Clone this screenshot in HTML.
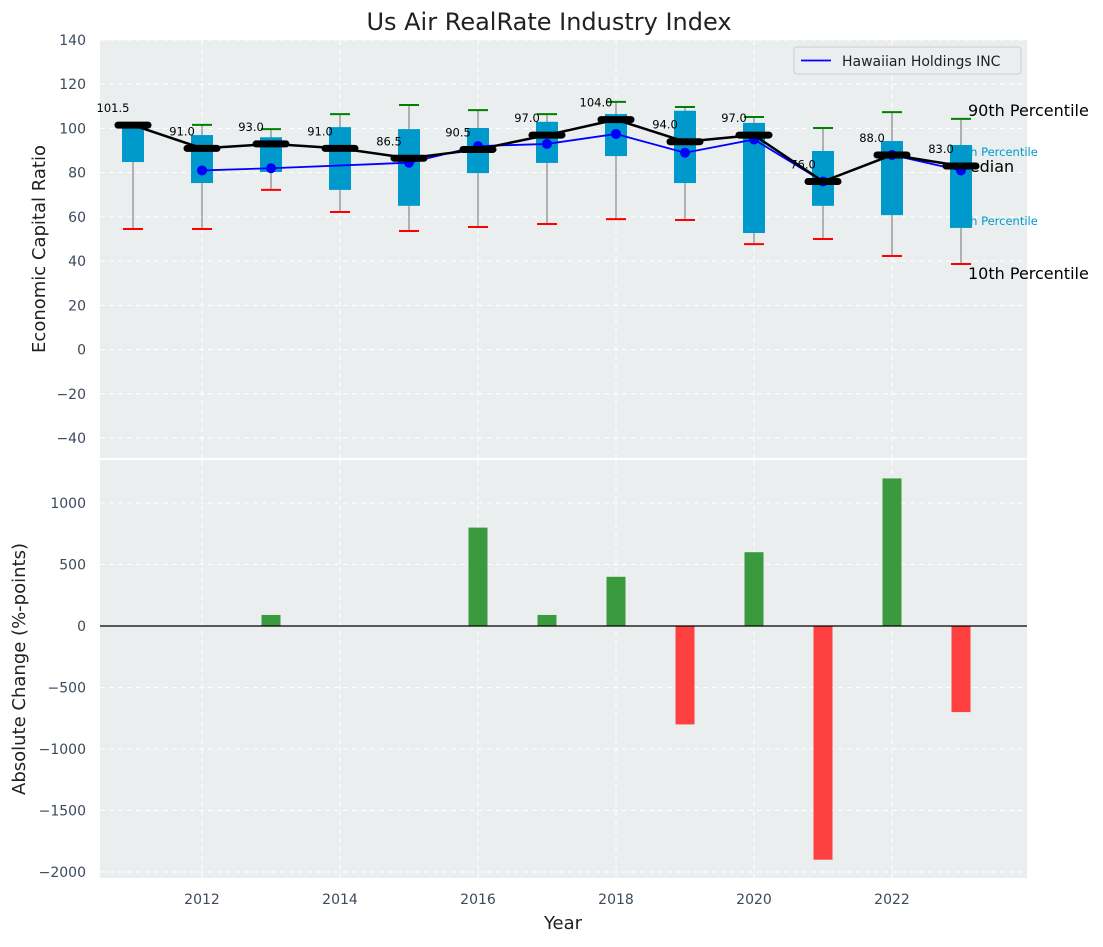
<!DOCTYPE html>
<html><head><meta charset="utf-8"><style>
body{margin:0;background:#fff;font-family:"Liberation Sans","DejaVu Sans",sans-serif}
svg text{font-family:"DejaVu Sans","Liberation Sans",sans-serif}
</style></head><body>
<svg id="chart" width="1103" height="942" xmlns="http://www.w3.org/2000/svg">
<text x="549" y="30" font-size="24" text-anchor="middle" fill="#222">Us Air RealRate Industry Index</text>
<g id="topPanel"></g>
<g id="botPanel"></g>
</svg>
<script>
const years=[2011,2012,2013,2014,2015,2016,2017,2018,2019,2020,2021,2022,2023];
const medians=[101.5,91,93,91,86.5,90.5,97,104,94,97,76,88,83];
const q1=[84.8,75.3,80.3,72.2,65,79.8,84.4,87.5,75.3,52.7,65,60.8,55];
const q3=[102.9,97,96,100.6,99.7,100.2,103,106.5,108,102.5,89.8,94.3,92.5];
const p90=[102,101.6,99.7,106.5,110.6,108.3,106.5,112,109.7,105.2,100.2,107.4,104.3];
const p10=[54.5,54.5,72.2,62.2,53.6,55.4,56.8,59,58.6,47.7,50,42.3,38.7];
const hawYears=[2012,2013,2015,2016,2017,2018,2019,2020,2021,2022,2023];
const hawVals=[81,82,84.5,92,93,97.5,89,95,76,88,81];
const changes=[0,0,90,0,0,800,90,400,-800,600,-1900,1200,-700];
const topTicks=[-40,-20,0,20,40,60,80,100,120,140];
const botTicks=[-2000,-1500,-1000,-500,0,500,1000];
const xTicks=[2012,2014,2016,2018,2020,2022];

const NS="http://www.w3.org/2000/svg";
function mk(p,t,a){const e=document.createElementNS(NS,t);for(const k in a)e.setAttribute(k,a[k]);p.appendChild(e);return e;}
const X0=100,X1=1027;
const x=y=>202+(y-2012)*69;
const yt=v=>40+(140-v)*2.211;
const yb=v=>626-v*0.123;
const topG=document.getElementById('topPanel'),botG=document.getElementById('botPanel');

let r=mk(topG,'rect',{x:X0,y:40,width:X1-X0,height:418,fill:'#eaeeef'});


topTicks.forEach(v=>{
 mk(topG,'line',{x1:X0,x2:X1,y1:yt(v),y2:yt(v),stroke:'#fff','stroke-dasharray':'5,4','stroke-width':1});
 const t=mk(topG,'text',{x:86,y:yt(v)+5,'font-size':14,'text-anchor':'end',fill:'#3b4a5c'});t.textContent=v<0?'\u2212'+(-v):v;
 
 
});
xTicks.forEach(v=>{mk(topG,'line',{x1:x(v),x2:x(v),y1:40,y2:458,stroke:'#fff','stroke-dasharray':'5,4'});});
let yl=mk(topG,'text',{x:45,y:249,'font-size':18,'text-anchor':'middle',fill:'#222',transform:'rotate(-90 45 249)'});yl.textContent='Economic Capital Ratio';


[['90th Percentile',968,116,16,'#000'],['75th Percentile',951,156,11.5,'#0099cc'],['Median',956,172,16,'#000'],['25th Percentile',951,225,11.5,'#0099cc'],['10th Percentile',968,279,16,'#000']].forEach(a=>{
 const t=mk(topG,'text',{x:a[1],y:a[2],'font-size':a[3],fill:a[4]});t.textContent=a[0];
 
 
});
years.forEach((yr,i)=>{
 const cx=x(yr);
 const w=mk(topG,'line',{x1:cx,x2:cx,y1:yt(p90[i]),y2:yt(p10[i]),stroke:'#888','stroke-width':1.2});
 
 
 const b=mk(topG,'rect',{x:cx-11,y:yt(q3[i]),width:22,height:yt(q1[i])-yt(q3[i]),fill:'#0099cc'});
 
 
 mk(topG,'line',{x1:cx-10,x2:cx+10,y1:yt(p90[i]),y2:yt(p90[i]),stroke:'green','stroke-width':2});
 mk(topG,'line',{x1:cx-10,x2:cx+10,y1:yt(p10[i]),y2:yt(p10[i]),stroke:'red','stroke-width':2});
});
let hp=hawYears.map((yr,i)=>(i?'L':'M')+x(yr)+','+yt(hawVals[i])).join('');
let hl=mk(topG,'path',{d:hp,stroke:'blue','stroke-width':1.8,fill:'none'});


hawYears.forEach((yr,i)=>{const c=mk(topG,'circle',{cx:x(yr),cy:yt(hawVals[i]),r:5,fill:'blue'});
 
 });
let mp=years.map((yr,i)=>(i?'L':'M')+x(yr)+','+yt(medians[i])).join('');
let ml=mk(topG,'path',{d:mp,stroke:'#000','stroke-width':2.5,fill:'none'});


years.forEach((yr,i)=>{
 const m=mk(topG,'line',{x1:x(yr)-15,x2:x(yr)+15,y1:yt(medians[i]),y2:yt(medians[i]),stroke:'#000','stroke-width':7,'stroke-linecap':'round'});
 
 
 const t=mk(topG,'text',{x:x(yr)-20,y:yt(medians[i])-13,'font-size':11.5,'text-anchor':'middle',fill:'#000'});t.textContent=medians[i].toFixed(1);
 
 
});
let lg=mk(topG,'g',{});


mk(lg,'rect',{x:794,y:47,width:227,height:27,rx:3,fill:'#eaeeef',stroke:'#ccc'});
mk(lg,'line',{x1:801,x2:831,y1:60.5,y2:60.5,stroke:'blue','stroke-width':1.8});
let lt=mk(lg,'text',{x:842,y:66,'font-size':14,fill:'#222'});lt.textContent='Hawaiian Holdings INC';



let r2=mk(botG,'rect',{x:X0,y:460,width:X1-X0,height:418,fill:'#eaeeef'});


botTicks.forEach(v=>{
 mk(botG,'line',{x1:X0,x2:X1,y1:yb(v),y2:yb(v),stroke:'#fff','stroke-dasharray':'5,4'});
 const t=mk(botG,'text',{x:86,y:yb(v)+5,'font-size':14,'text-anchor':'end',fill:'#3b4a5c'});t.textContent=v<0?'\u2212'+(-v):v;
 
 
});
xTicks.forEach(v=>{
 mk(botG,'line',{x1:x(v),x2:x(v),y1:460,y2:878,stroke:'#fff','stroke-dasharray':'5,4'});
 const t=mk(botG,'text',{x:x(v),y:904,'font-size':14,'text-anchor':'middle',fill:'#3b4a5c'});t.textContent=v;
 
 
});
years.forEach((yr,i)=>{
 const v=changes[i];if(!v)return;
 const b=mk(botG,'rect',{x:x(yr)-9.5,y:Math.min(yb(v),yb(0)),width:19,height:Math.abs(yb(v)-yb(0)),fill:v>0?'#3a9b3e':'#ff4040'});
 
 
});
mk(botG,'line',{x1:X0,x2:X1,y1:yb(0),y2:yb(0),stroke:'#000','stroke-width':1.2});
let yl2=mk(botG,'text',{x:25,y:669,'font-size':18,'text-anchor':'middle',fill:'#222',transform:'rotate(-90 25 669)'});yl2.textContent='Absolute Change (%-points)';


let xl=mk(botG,'text',{x:563,y:929,'font-size':18,'text-anchor':'middle',fill:'#222'});xl.textContent='Year';


</script>
</body></html>
